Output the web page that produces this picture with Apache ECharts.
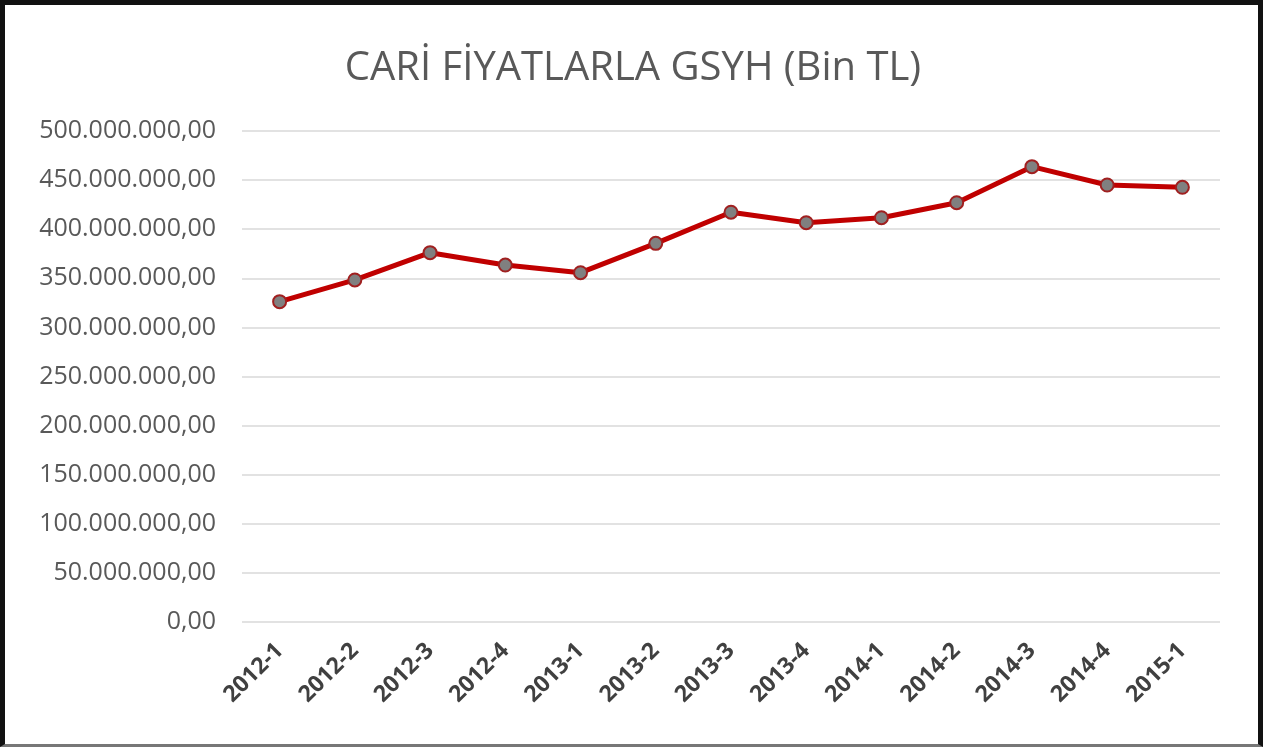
<!DOCTYPE html>
<html><head><meta charset="utf-8">
<script src="https://cdn.jsdelivr.net/npm/echarts@6/dist/echarts.min.js"></script>
<style>
html,body{margin:0;padding:0;background:#fff;}
#frame{position:absolute;left:0;top:0;width:1253px;height:739px;border-left:5px solid #111;border-top:5px solid #111;border-right:5px solid #111;border-bottom:3px solid #777;}
#main{position:absolute;left:0;top:0;width:1266px;height:747px;}
</style></head>
<body>
<div id="main"></div>
<div id="frame"></div>
<script>
const categories = ['2012-1','2012-2','2012-3','2012-4','2013-1','2013-2','2013-3','2013-4','2014-1','2014-2','2014-3','2014-4','2015-1'];
const gsyhValues = [326200000,348300000,376100000,363500000,355700000,385600000,417300000,406600000,411700000,427000000,463700000,445000000,442700000];
const yTicks = [0,50000000,100000000,150000000,200000000,250000000,300000000,350000000,400000000,450000000,500000000];

function fmt(v){
  const s = Math.round(v).toString().replace(/\B(?=(\d{3})+(?!\d))/g,'.');
  return s + ',00';
}

const chart = echarts.init(document.getElementById('main'));
chart.setOption({
  animation:false,
  backgroundColor:'#fff',
  title:{
    text:'CARİ FİYATLARLA GSYH (Bin TL)',
    left:'center', top:44,
    textStyle:{fontFamily:'Open Sans, sans-serif',fontSize:40,fontWeight:'normal',color:'#595959'}
  },
  grid:{left:242,right:46,top:131,bottom:125,containLabel:false},
  xAxis:{
    type:'category',data:categories,boundaryGap:true,
    axisLine:{show:false},axisTick:{show:false},
    axisLabel:{rotate:45,fontSize:23,color:'#404040',fontFamily:'Open Sans, sans-serif',fontWeight:'bold',margin:25,interval:0}
  },
  yAxis:{
    type:'value',min:yTicks[0],max:yTicks[yTicks.length-1],interval:50000000,
    axisLine:{show:false},axisTick:{show:false},
    splitLine:{lineStyle:{color:'#d9d9d9',width:1.5}},
    axisLabel:{formatter:fmt,fontSize:25,color:'#595959',fontFamily:'Open Sans, sans-serif',margin:26}
  },
  series:[{
    type:'line',data:gsyhValues,
    lineStyle:{color:'#c00000',width:5},
    symbol:'circle',symbolSize:13,
    itemStyle:{color:'#808080',borderColor:'#a02020',borderWidth:2}
  }]
});
</script>
</body></html>
